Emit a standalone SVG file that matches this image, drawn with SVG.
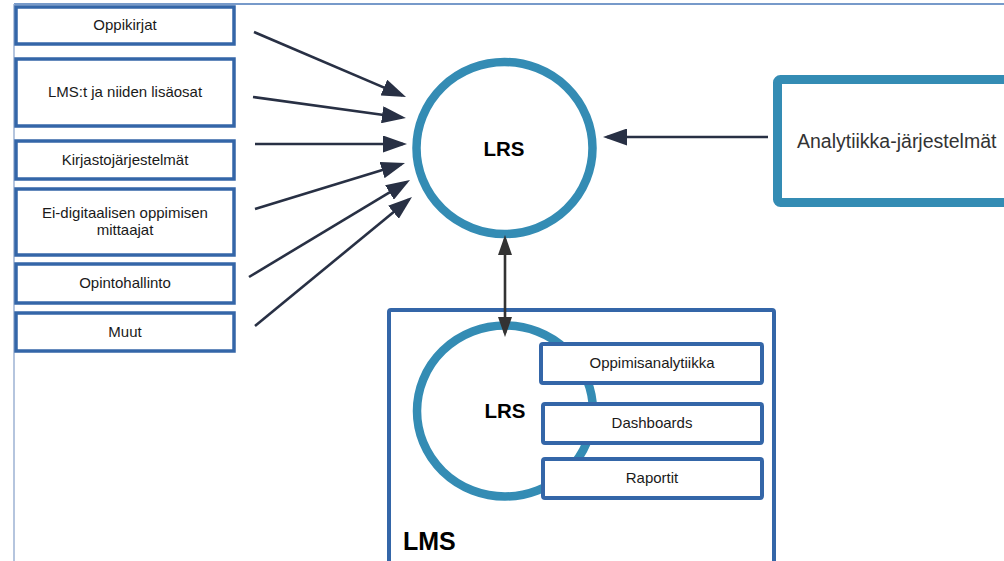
<svg xmlns="http://www.w3.org/2000/svg" width="1004" height="561" viewBox="0 0 1004 561">
<defs>
<style>
.box{fill:#fff;stroke:#3466a8;stroke-width:3.5}
.sbox{fill:#fff;stroke:#3466a8;stroke-width:4}
.ring{fill:#fff;stroke:#348cb4;stroke-width:8.5}
.t{font-family:"Liberation Sans",Arial,sans-serif;font-size:15px;fill:#1a1a1a;text-anchor:middle}
.b{font-family:"Liberation Sans",Arial,sans-serif;font-weight:bold;fill:#000}
.arr{stroke:#283044;stroke-width:2.6;fill:none;marker-end:url(#ah)}
.dbl{stroke:#333;stroke-width:2.6;fill:none;marker-start:url(#ah2);marker-end:url(#ah2)}
</style>
<marker id="ah" markerUnits="userSpaceOnUse" markerWidth="24" markerHeight="17" refX="20" refY="8.5" orient="auto" viewBox="0 0 24 17">
<path d="M0,0 L24,8.5 L0,17 Z" fill="#283044"/>
</marker>
<marker id="ah2" markerUnits="userSpaceOnUse" markerWidth="20" markerHeight="14" refX="16" refY="7" orient="auto-start-reverse" viewBox="0 0 20 14">
<path d="M0,0 L20,7 L0,14 Z" fill="#333"/>
</marker>
</defs>
<rect width="1004" height="561" fill="#fff"/>
<g id="page">
<line x1="14" y1="4" x2="1004" y2="4" stroke="#4a78b8" stroke-width="1.3"/>
<line x1="14" y1="4" x2="14" y2="561" stroke="#9db2d3" stroke-width="1.5"/>
</g>
<g id="lms">
<rect x="389" y="310" width="385" height="262" rx="2" fill="#fff" stroke="#3466a8" stroke-width="4"/>
<text class="b" x="403" y="550" font-size="25">LMS</text>
</g>
<g id="lrs-inner">
<ellipse class="ring" cx="505" cy="411" rx="88" ry="85.5"/>
<text class="b" x="505" y="417.5" font-size="20.5" text-anchor="middle">LRS</text>
</g>
<g id="oppimisanalytiikka">
<rect class="sbox" x="541" y="344" width="221" height="39" rx="2"/>
<text class="t" x="652" y="368">Oppimisanalytiikka</text>
</g>
<g id="dashboards">
<rect class="sbox" x="543" y="404" width="219" height="39" rx="2"/>
<text class="t" x="652" y="428">Dashboards</text>
</g>
<g id="raportit">
<rect class="sbox" x="543" y="459" width="219" height="39" rx="2"/>
<text class="t" x="652" y="483">Raportit</text>
</g>
<g id="oppikirjat">
<rect class="box" x="16" y="7" width="218" height="37"/>
<text class="t" x="125" y="30">Oppikirjat</text>
</g>
<g id="lms-lisaosat">
<rect class="box" x="16" y="59" width="218" height="67"/>
<text class="t" x="125" y="97">LMS:t ja niiden lisäosat</text>
</g>
<g id="kirjasto">
<rect class="box" x="16" y="141" width="218" height="38"/>
<text class="t" x="125" y="165">Kirjastojärjestelmät</text>
</g>
<g id="ei-digitaalinen">
<rect class="box" x="16" y="189" width="218" height="66"/>
<text class="t" x="125" y="218">Ei-digitaalisen oppimisen</text>
<text class="t" x="125" y="235">mittaajat</text>
</g>
<g id="opintohallinto">
<rect class="box" x="16" y="264" width="218" height="39"/>
<text class="t" x="125" y="288">Opintohallinto</text>
</g>
<g id="muut">
<rect class="box" x="16" y="313" width="218" height="38"/>
<text class="t" x="125" y="337">Muut</text>
</g>
<g id="lrs">
<ellipse class="ring" cx="504.5" cy="148" rx="88" ry="86"/>
<text class="b" x="504" y="156" font-size="20.5" text-anchor="middle">LRS</text>
</g>
<g id="analytiikka">
<rect x="777.5" y="79.5" width="240" height="123" rx="3" fill="#fff" stroke="#348cb4" stroke-width="9"/>
<text x="797" y="148" font-family="Liberation Sans, Arial, sans-serif" font-size="19.5" fill="#333">Analytiikka-järjestelmät</text>
</g>
<g id="connectors">
<line class="arr" x1="254" y1="32" x2="402.3" y2="95.4"/>
<line class="arr" x1="253" y1="97" x2="402" y2="117.5"/>
<line class="arr" x1="255" y1="144" x2="403" y2="144"/>
<line class="arr" x1="255" y1="209" x2="401.2" y2="164.2"/>
<line class="arr" x1="249" y1="277" x2="406.6" y2="182.1"/>
<line class="arr" x1="255" y1="326" x2="408.9" y2="199.5"/>
<line class="arr" x1="768" y1="137" x2="607" y2="137"/>
<line class="dbl" x1="505" y1="239" x2="505" y2="333"/>
</g>
</svg>
